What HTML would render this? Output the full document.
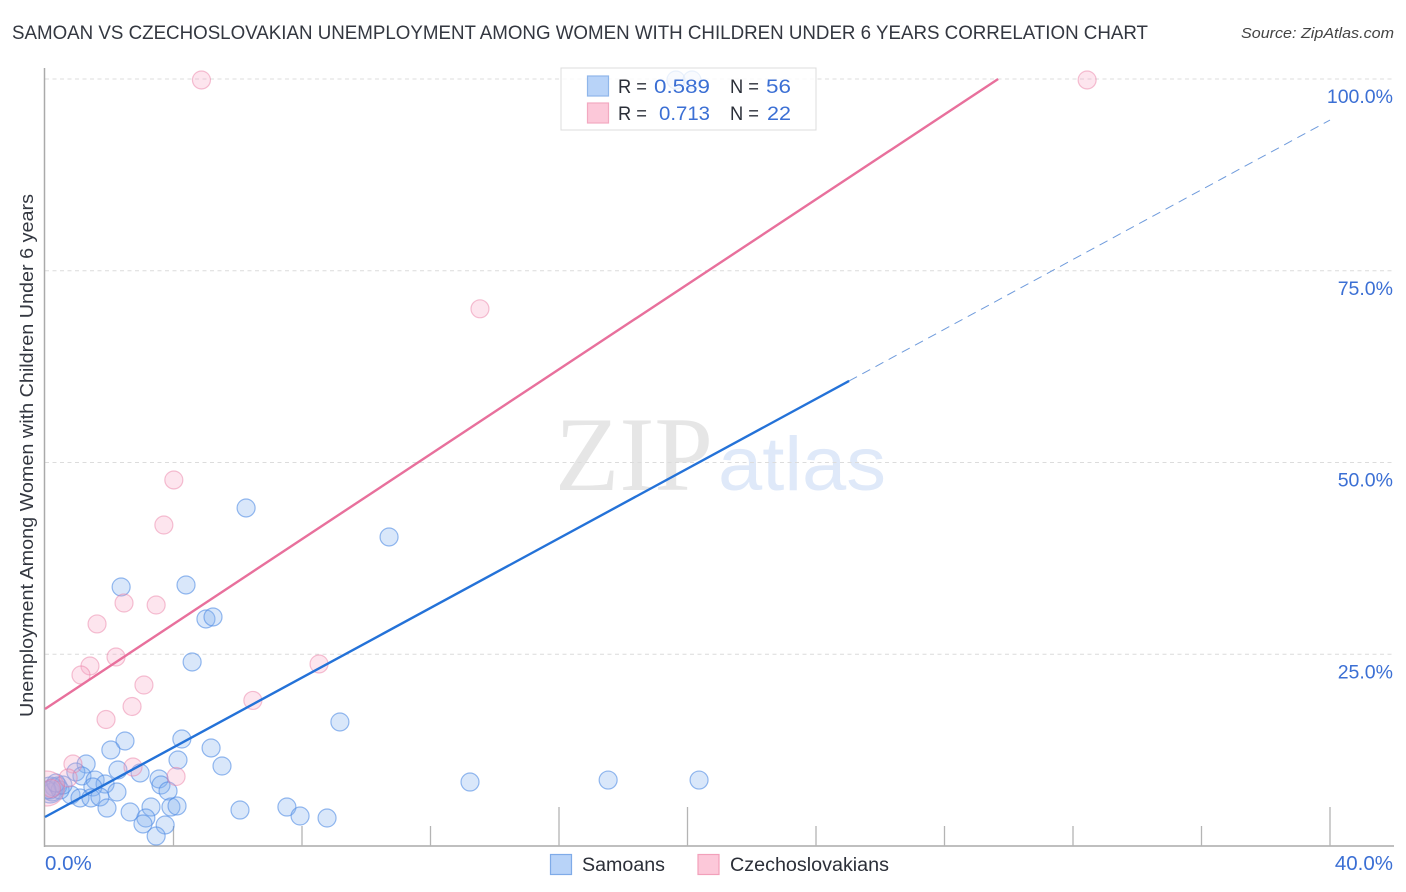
<!DOCTYPE html>
<html lang="en">
<head>
<meta charset="utf-8">
<title>Samoan vs Czechoslovakian Unemployment Correlation Chart</title>
<style>
html,body{margin:0;padding:0;background:#fff;width:1406px;height:892px;overflow:hidden}
svg{display:block;font-family:"Liberation Sans",sans-serif}
</style>
</head>
<body>
<svg id="chart" xmlns="http://www.w3.org/2000/svg" width="1406" height="892" viewBox="0 0 1406 892">
  <defs><clipPath id="plot-clip"><rect x="45" y="60" width="1349" height="786"/></clipPath></defs>
  <text x="12" y="39" font-size="19.5" fill="#333740" textLength="1136" lengthAdjust="spacingAndGlyphs">SAMOAN VS CZECHOSLOVAKIAN UNEMPLOYMENT AMONG WOMEN WITH CHILDREN UNDER 6 YEARS CORRELATION CHART</text>
  <text x="1241" y="38" font-size="15" font-style="italic" fill="#444" textLength="153" lengthAdjust="spacingAndGlyphs">Source: ZipAtlas.com</text>
  <text transform="translate(33,717) rotate(-90)" x="0" y="0" font-size="18" fill="#333740" textLength="523" lengthAdjust="spacingAndGlyphs">Unemployment Among Women with Children Under 6 years</text>
  <g>
    <text x="555" y="490" font-size="106" font-family="'Liberation Serif',serif" fill="#e6e6e6" textLength="158" lengthAdjust="spacingAndGlyphs">ZIP</text>
    <text x="718" y="490" font-size="76" fill="#dfe9f9" textLength="168" lengthAdjust="spacingAndGlyphs">atlas</text>
  </g>
  <g id="grid"></g>
  <g id="axes"></g>
  <g id="points" clip-path="url(#plot-clip)"></g>
  <g id="trends"></g>
  <g>
    <rect x="561" y="68" width="255" height="62" fill="#fff" fill-opacity="0.8" stroke="#dcdcdc" stroke-width="1"/>
    <rect x="587.5" y="76" width="21" height="20" fill="#b8d3f8" stroke="#8fb6ea" stroke-width="1.2"/>
    <rect x="587.5" y="103" width="21" height="20" fill="#fcc8d9" stroke="#f2a9c1" stroke-width="1.2"/>
    <g font-size="19.5">
      <text x="618" y="93" fill="#2b2f38" textLength="29" lengthAdjust="spacingAndGlyphs">R =</text>
      <text x="654" y="93" fill="#3b6fd4" textLength="56" lengthAdjust="spacingAndGlyphs">0.589</text>
      <text x="730" y="93" fill="#2b2f38" textLength="29" lengthAdjust="spacingAndGlyphs">N =</text>
      <text x="766" y="93" fill="#3b6fd4" textLength="25" lengthAdjust="spacingAndGlyphs">56</text>
      <text x="618" y="120" fill="#2b2f38" textLength="29" lengthAdjust="spacingAndGlyphs">R =</text>
      <text x="659" y="120" fill="#3b6fd4" textLength="51" lengthAdjust="spacingAndGlyphs">0.713</text>
      <text x="730" y="120" fill="#2b2f38" textLength="29" lengthAdjust="spacingAndGlyphs">N =</text>
      <text x="767" y="120" fill="#3b6fd4" textLength="24" lengthAdjust="spacingAndGlyphs">22</text>
    </g>
  </g>
  <g>
    <rect x="550.5" y="854.5" width="21" height="20" fill="#b8d3f8" stroke="#7fabe8" stroke-width="1.2"/>
    <text x="582" y="871" font-size="19" fill="#2b2f38" textLength="83" lengthAdjust="spacingAndGlyphs">Samoans</text>
    <rect x="698" y="854.5" width="21" height="20" fill="#fcc8d9" stroke="#f2a0ba" stroke-width="1.2"/>
    <text x="730" y="871" font-size="19" fill="#2b2f38" textLength="159" lengthAdjust="spacingAndGlyphs">Czechoslovakians</text>
  </g>
</svg>
<script>
const yTicks = [25, 50, 75, 100];
const yTickLabels = ['25.0%', '50.0%', '75.0%', '100.0%'];
const xTicks = [4, 8, 12, 16, 20, 24, 28, 32, 36, 40];
const xMajorTicks = [16, 20, 40];
const xEndValues = [0, 40];
const xEndLabels = ['0.0%', '40.0%'];

const samoanX = [6.26,10.71,2.37,4.39,5.01,5.23,4.58,9.18,4.26,2.49,2.05,5.17,4.14,5.51,1.28,2.27,0.96,2.96,1.15,1.56,3.55,3.61,1.87,3.83,2.24,1.49,0.81,1.09,1.43,1.71,1.93,2.65,3.3,3.92,4.11,6.07,7.53,7.94,8.78,3.14,3.05,3.74,3.46,13.23,17.53,20.36,19.64,20.14,0.16,0.28,0.22,0.4,0.47,0.56,0.06,0.34];
const samoanY = [44.07,40.29,33.77,34.03,29.6,29.86,23.99,16.17,13.95,13.69,12.52,12.78,11.21,10.43,10.69,9.91,9.65,9.52,9.13,8.6,8.74,7.95,8.08,7.17,7.04,7.69,6.65,6.26,6.26,6.39,4.95,4.43,5.08,5.08,5.22,4.69,5.08,3.91,3.65,3.65,2.87,2.74,1.3,8.34,8.6,8.6,99.87,99.87,7.3,7.69,7.04,7.82,7.3,7.95,7.3,8.21];
const samoanClusterX = [0.16];
const samoanClusterY = [7.3];

const czechX = [4.87,32.44,13.54,4.01,3.7,2.46,3.46,1.62,2.21,1.4,1.12,8.53,3.08,6.47,2.71,1.9,0.87,2.74,4.08,0.72,0.2];
const czechY = [99.87,99.87,70.04,47.72,41.85,31.68,31.42,28.95,24.64,23.47,22.29,23.73,20.99,18.98,18.19,16.49,10.69,10.3,9.06,8.87,7.5];
const czechClusterX = [0.06];
const czechClusterY = [7.5];

const samoanTrendX = [0, 25.03];
const samoanTrendY = [3.78, 60.63];
const samoanForecastX = [25.03, 40];
const samoanForecastY = [60.63, 94.65];
const czechTrendX = [0, 29.67];
const czechTrendY = [17.86, 100];

const SVG_NS = 'http://www.w3.org/2000/svg';
function sx(v) { return 45 + v * 32.125; }
function sy(v) { return 846 - v * 7.67; }
function make(parent, tag, attrs) {
  const el = document.createElementNS(SVG_NS, tag);
  Object.keys(attrs).forEach(function (k) { el.setAttribute(k, attrs[k]); });
  parent.appendChild(el);
  return el;
}
const gridG = document.getElementById('grid');
const axesG = document.getElementById('axes');
const pointsG = document.getElementById('points');
const trendsG = document.getElementById('trends');

yTicks.forEach(function (t, i) {
  const line = make(gridG, 'line', { x1: 45, x2: 1394, y1: sy(t), y2: sy(t), stroke: '#dcdcdc', 'stroke-width': 1, 'stroke-dasharray': '4 3.5' });
  
  
  const label = make(axesG, 'text', { x: 1393, y: sy(t) + 24, 'text-anchor': 'end', 'font-size': 19.5, fill: '#3b6fd4' });
  label.textContent = yTickLabels[i];
  
  
});

const yAxis = make(axesG, 'line', { x1: 44.5, x2: 44.5, y1: 68, y2: 847, stroke: '#aaa', 'stroke-width': 1.5 });


const xAxis = make(axesG, 'line', { x1: 44, x2: 1394, y1: 846, y2: 846, stroke: '#aaa', 'stroke-width': 1.5 });



xTicks.forEach(function (t) {
  const isMajor = xMajorTicks.indexOf(t) >= 0;
  const tick = make(axesG, 'line', { x1: sx(t), x2: sx(t), y1: isMajor ? 807 : 826, y2: 846, stroke: '#b4b4b4', 'stroke-width': 1.3 });
  
  
});

xEndValues.forEach(function (t, i) {
  const label = make(axesG, 'text', { x: i === 0 ? sx(t) : 1393, y: 870, 'text-anchor': i === 0 ? 'start' : 'end', 'font-size': 20.5, fill: '#3b6fd4' });
  label.textContent = xEndLabels[i];
  
  
});

function drawPoints(xs, ys, r, fill, stroke, name) {
  xs.forEach(function (x, i) {
    const c = make(pointsG, 'circle', { cx: sx(x), cy: sy(ys[i]), r: r, fill: fill, stroke: stroke, 'stroke-width': 1.2 });
    
    
  });
}
const BLUE_FILL = 'rgba(130,175,240,0.3)';
const BLUE_STROKE = 'rgba(80,140,228,0.6)';
const PINK_FILL = 'rgba(247,170,198,0.3)';
const PINK_STROKE = 'rgba(232,120,160,0.45)';
drawPoints(samoanClusterX, samoanClusterY, 13, BLUE_FILL, BLUE_STROKE, 'samoan-cluster-point');
drawPoints(samoanX, samoanY, 9, BLUE_FILL, BLUE_STROKE, 'samoan-point');
drawPoints(czechClusterX, czechClusterY, 17.5, PINK_FILL, PINK_STROKE, 'czech-cluster-point');
drawPoints(czechX, czechY, 9, PINK_FILL, PINK_STROKE, 'czech-point');

const czechLine = make(trendsG, 'line', { x1: sx(czechTrendX[0]), y1: sy(czechTrendY[0]), x2: sx(czechTrendX[1]), y2: sy(czechTrendY[1]), stroke: '#e8709c', 'stroke-width': 2.4 });


const samoanLine = make(trendsG, 'line', { x1: sx(samoanTrendX[0]), y1: sy(samoanTrendY[0]), x2: sx(samoanTrendX[1]), y2: sy(samoanTrendY[1]), stroke: '#2472d8', 'stroke-width': 2.4 });


const forecastLine = make(trendsG, 'line', { x1: sx(samoanForecastX[0]), y1: sy(samoanForecastY[0]), x2: sx(samoanForecastX[1]), y2: sy(samoanForecastY[1]), stroke: '#6f9bdc', 'stroke-width': 1, 'stroke-dasharray': '9 6' });


</script>
</body>
</html>
